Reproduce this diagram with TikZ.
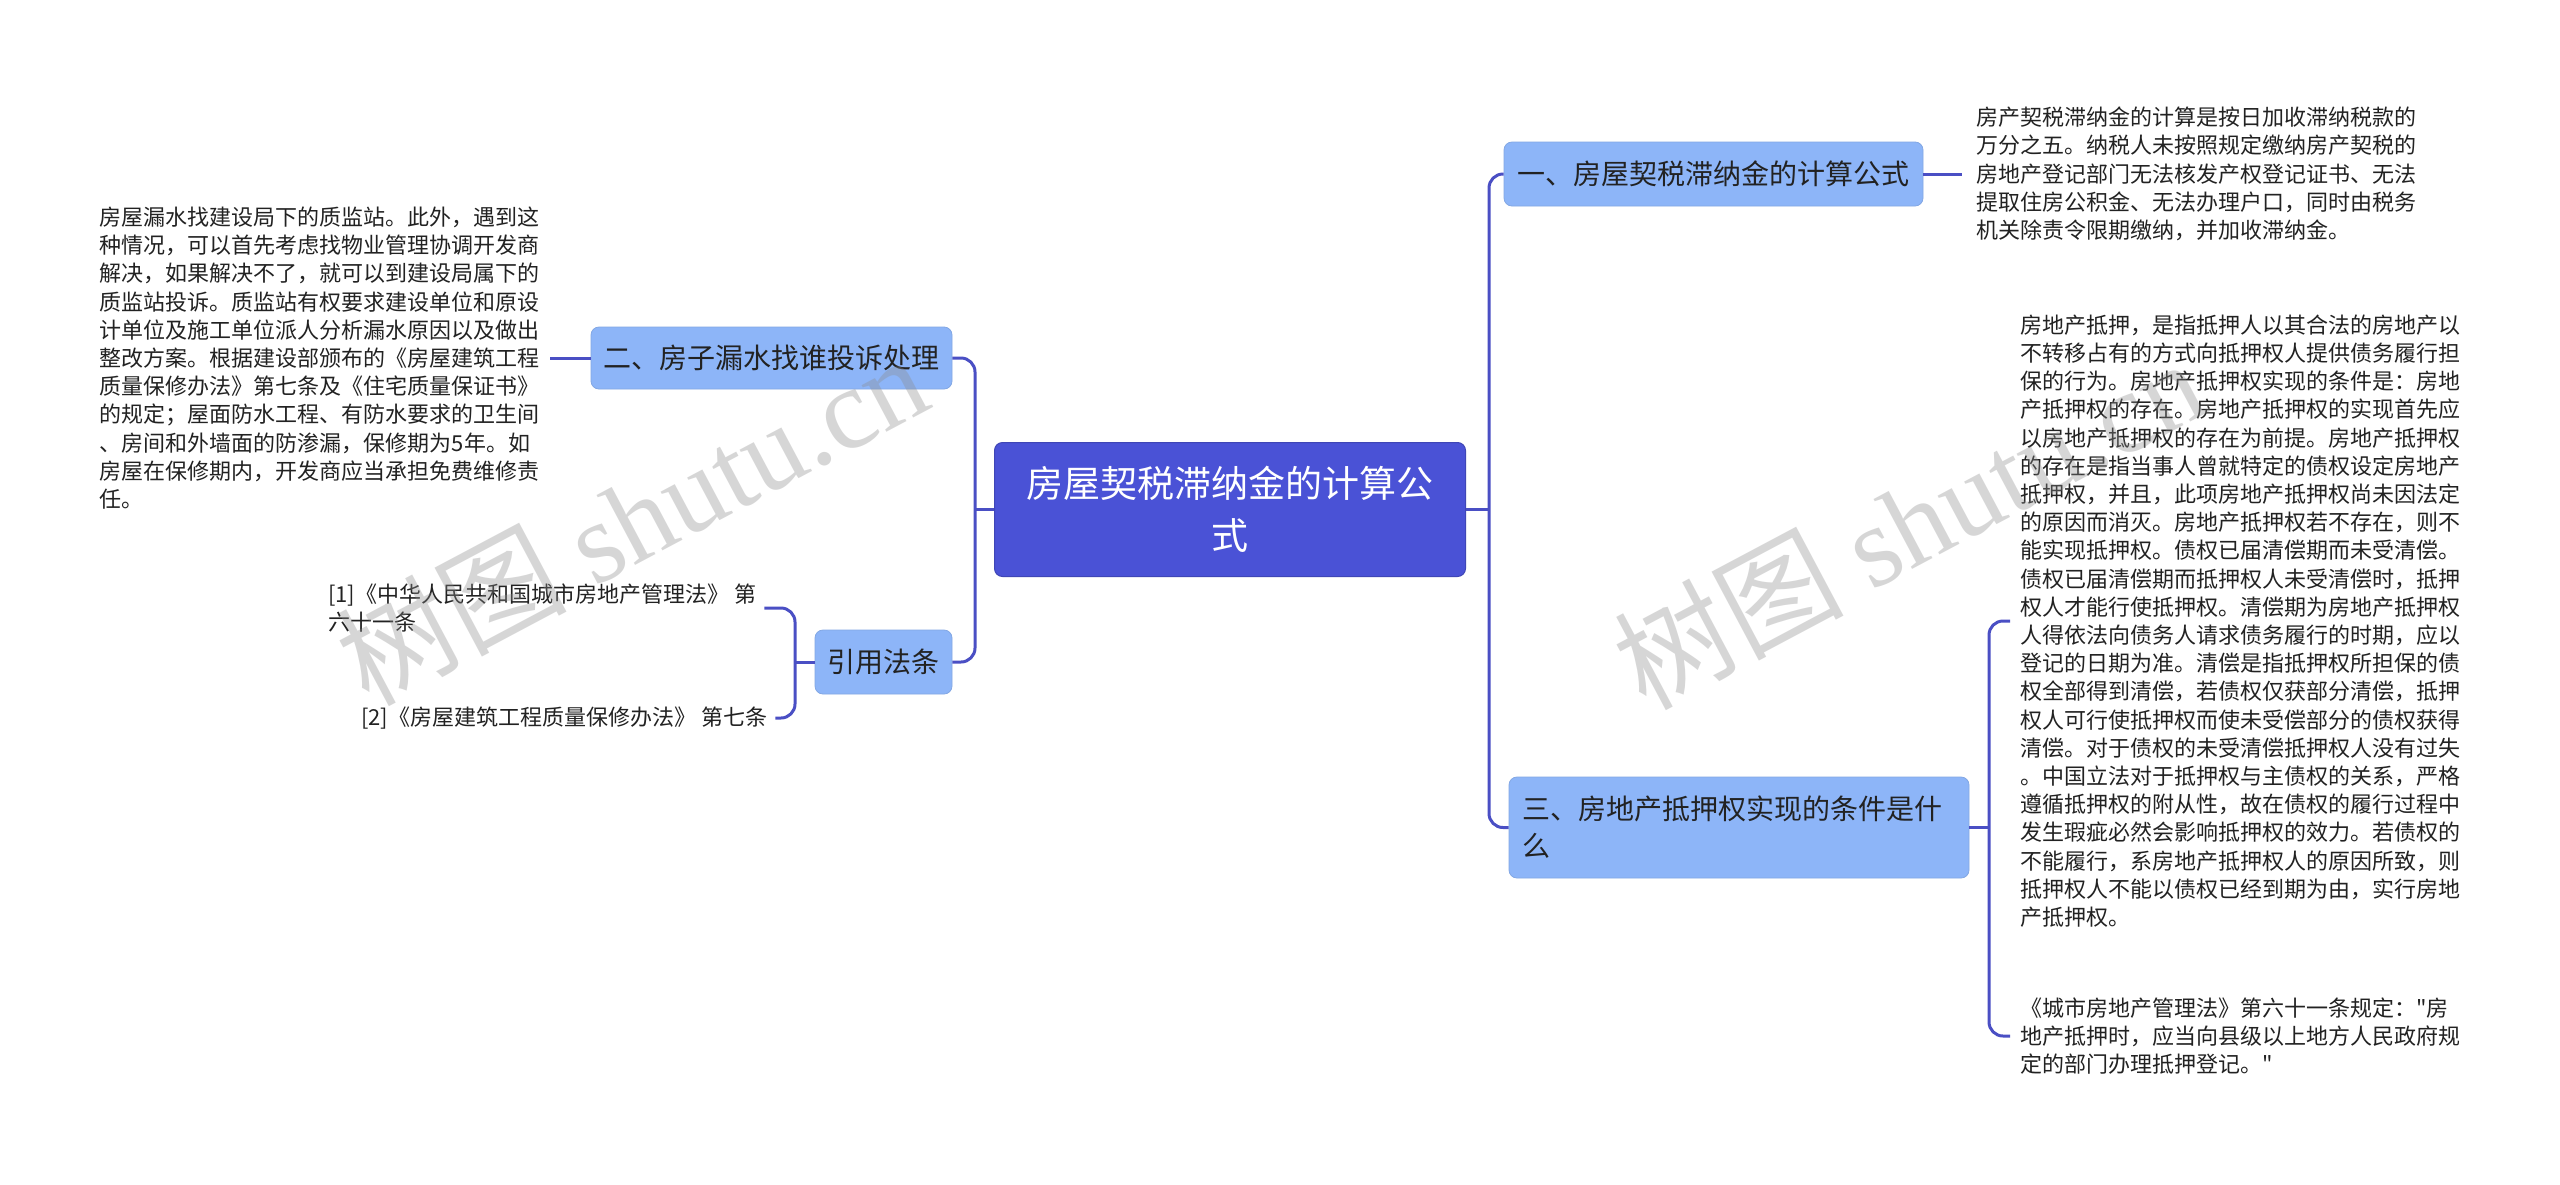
\documentclass[tikz,border=0pt]{standalone}
\usepackage{fontspec}
\setmainfont{Noto Sans CJK SC}
\newfontfamily\cjk{Noto Sans CJK SC}
\newfontfamily\wmlatin{Liberation Serif}
\newcommand{\sq}{{\cjk "}}
\definecolor{cMain}{HTML}{4A52D6}
\definecolor{cBox}{HTML}{8DB5F8}
\definecolor{cLine}{HTML}{4A4FC4}
\definecolor{cText}{HTML}{222222}
\tikzset{
  conn/.style={draw=cLine, line width=3pt, rounded corners=14pt},
  mainbox/.style={fill=cMain, draw=cMain!85!black, line width=1pt, rounded corners=8pt,
    text=white, align=center, font=\fontsize{37}{52}\selectfont, inner sep=0pt},
  branch/.style={fill=cBox, draw=cBox!92!black, line width=0.8pt, rounded corners=8pt,
    text=cText, font=\fontsize{28}{37}\selectfont, inner sep=0pt},
  leaf/.style={text=cText, font=\fontsize{22}{28.2}\selectfont, align=left,
    inner xsep=8pt, inner ysep=0pt},
  wm/.style={text=black!45, opacity=0.35, font=\fontsize{115}{115}\selectfont,
    inner sep=0pt, anchor=base west, rotate=28}
}
\begin{document}
\begin{tikzpicture}[x=1pt,y=-1pt]
\useasboundingbox (0,0) rectangle (2560,1184);
\fill[white] (0,0) rectangle (2560,1184);

% central node
\node[mainbox, minimum width=471pt, minimum height=134pt] (c) at (1230,509.5)
  {房屋契税滞纳金的计算公\\式};

% branch nodes
\node[branch, minimum width=419pt, minimum height=64pt] (b1) at (1713.5,174)
  {一、房屋契税滞纳金的计算公式};
\node[branch, minimum width=361pt, minimum height=62pt] (b2) at (771.5,358)
  {二、房子漏水找谁投诉处理};
\node[branch, minimum width=137pt, minimum height=64pt] (b4) at (883.5,662)
  {引用法条};
\node[branch, minimum width=460pt, minimum height=101pt, text width=434pt,
  align=left, inner xsep=13pt] (b3) at (1739,827.5)
  {三、房地产抵押权实现的条件是什\\么};

% leaf texts
\node[leaf, anchor=west, inner xsep=14pt] (t1) at (1962,174)
  {房产契税滞纳金的计算是按日加收滞纳税款的\\
   万分之五。纳税人未按照规定缴纳房产契税的\\
   房地产登记部门无法核发产权登记证书、无法\\
   提取住房公积金、无法办理户口，同时由税务\\
   机关除责令限期缴纳，并加收滞纳金。};

\node[leaf, anchor=east, inner xsep=10pt] (t2) at (550,358)
  {房屋漏水找建设局下的质监站。此外，遇到这\\
   种情况，可以首先考虑找物业管理协调开发商\\
   解决，如果解决不了，就可以到建设局属下的\\
   质监站投诉。质监站有权要求建设单位和原设\\
   计单位及施工单位派人分析漏水原因以及做出\\
   整改方案。根据建设部颁布的《房屋建筑工程\\
   质量保修办法》第七条及《住宅质量保证书》\\
   的规定；屋面防水工程、有防水要求的卫生间\\
   、房间和外墙面的防渗漏，保修期为5年。如\\
   房屋在保修期内，开发商应当承担免费维修责\\
   任。};

\node[leaf, anchor=west] (r1) at (320,608)
  {[1]《中华人民共和国城市房地产管理法》 第\\六十一条};
\node[leaf, anchor=west] (r2) at (353,718)
  {[2]《房屋建筑工程质量保修办法》 第七条};

\node[leaf, anchor=west, inner xsep=10pt] (t3a) at (2010,621)
  {房地产抵押，是指抵押人以其合法的房地产以\\
   不转移占有的方式向抵押权人提供债务履行担\\
   保的行为。房地产抵押权实现的条件是：房地\\
   产抵押权的存在。房地产抵押权的实现首先应\\
   以房地产抵押权的存在为前提。房地产抵押权\\
   的存在是指当事人曾就特定的债权设定房地产\\
   抵押权，并且，此项房地产抵押权尚未因法定\\
   的原因而消灭。房地产抵押权若不存在，则不\\
   能实现抵押权。债权已届清偿期而未受清偿。\\
   债权已届清偿期而抵押权人未受清偿时，抵押\\
   权人才能行使抵押权。清偿期为房地产抵押权\\
   人得依法向债务人请求债务履行的时期，应以\\
   登记的日期为准。清偿是指抵押权所担保的债\\
   权全部得到清偿，若债权仅获部分清偿，抵押\\
   权人可行使抵押权而使未受偿部分的债权获得\\
   清偿。对于债权的未受清偿抵押权人没有过失\\
   。中国立法对于抵押权与主债权的关系，严格\\
   遵循抵押权的附从性，故在债权的履行过程中\\
   发生瑕疵必然会影响抵押权的效力。若债权的\\
   不能履行，系房地产抵押权人的原因所致，则\\
   抵押权人不能以债权已经到期为由，实行房地\\
   产抵押权。};

\node[leaf, anchor=west, inner xsep=10pt] (t3b) at (2010,1036)
  {《城市房地产管理法》第六十一条规定：\sq 房\\
   地产抵押时，应当向县级以上地方人民政府规\\
   定的部门办理抵押登记。\sq};

% junction coordinates
\coordinate (jl) at (975,509.5);
\coordinate (jr) at (1489,509.5);
\coordinate (j3) at (1989,827.5);
\coordinate (j4) at (795,662);

% connectors
\draw[conn, sharp corners] (c.west) -- (jl);
\draw[conn] (b2.east) -| (jl) |- (b4.east);
\draw[conn, sharp corners] (c.east) -- (jr);
\draw[conn] (b1.west) -| (jr) |- (b3.west);
\draw[conn] (b1.east) -- (t1.west);
\draw[conn] (b2.west) -- (t2.east);
\draw[conn, sharp corners] (b3.east) -- (j3);
\draw[conn] (t3a.west) -| (j3) |- (t3b.west);
\draw[conn, sharp corners] (b4.west) -- (j4);
\draw[conn] (r1.east) -| (j4) |- (r2.east);

% watermarks
\node[wm] (wm1) at (368,708) {{\cjk 树图} {\wmlatin shutu.cn}};
\node[wm] (wm2) at (1645,712) {{\cjk 树图} {\wmlatin shutu.cn}};
\end{tikzpicture}
\end{document}
